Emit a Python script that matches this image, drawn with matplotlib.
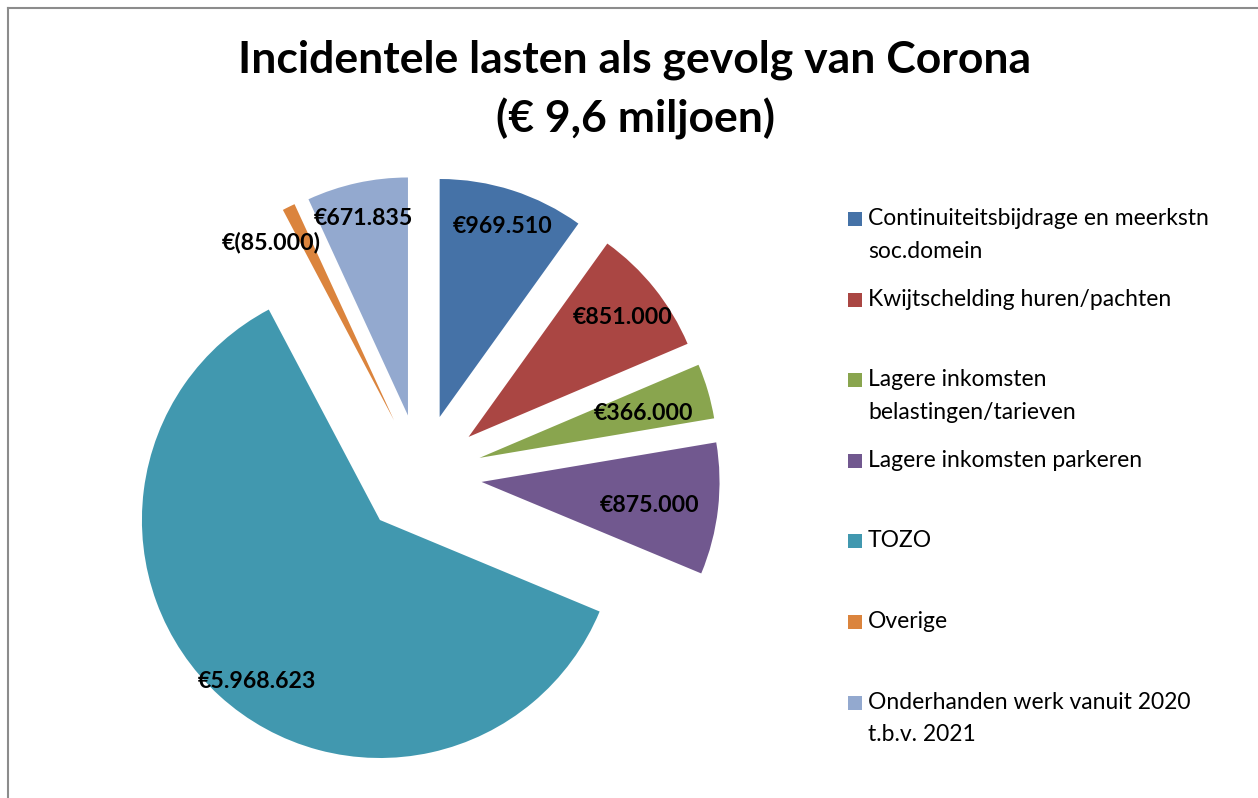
import matplotlib
matplotlib.use("Agg")
import matplotlib.pyplot as plt
import numpy as np
from matplotlib.patches import Rectangle
from matplotlib.lines import Line2D

# ---- data ----
categories = [
    "Continuiteitsbijdrage en meerkstn\nsoc.domein",
    "Kwijtschelding huren/pachten",
    "Lagere inkomsten\nbelastingen/tarieven",
    "Lagere inkomsten parkeren",
    "TOZO",
    "Overige",
    "Onderhanden werk vanuit 2020\nt.b.v. 2021",
]
amounts = [969510, 851000, 366000, 875000, 5968623, -85000, 671835]
title_lines = ["Incidentele lasten als gevolg van Corona", "(€ 9,6 miljoen)"]

# ---- style ----
colors = ["#4572A7", "#AA4643", "#89A54E", "#71588F", "#4198AF", "#DB843D", "#93A9CF"]
label_radius = [0.86, 0.83, 0.72, 0.71, 0.84, 0.92, 0.865]
label_angle_shift = [0, 0, 0, 0, 4.4, 7.7, 0]
FONT = "Lato"

W, H = 1258, 798
fig = plt.figure(figsize=(W / 100, H / 100), dpi=100)
fig.patch.set_facecolor("white")

def fx(px):
    return px / W

def fy(py):
    return 1 - py / H

# border (left and top visible)
fig.add_artist(Line2D([fx(8), fx(8)], [fy(8), fy(H + 5)], color="#8c8c8c", lw=1.5))
fig.add_artist(Line2D([fx(8), fx(W + 5)], [fy(8), fy(8)], color="#8c8c8c", lw=1.5))

# pie axes: center at (421, 475) px, radius 238 px
cx, cy, R, half = 421, 475, 238, 300
ax = fig.add_axes([fx(cx - half), fy(cy + half), 2 * half / W, 2 * half / H])
sizes = [abs(v) for v in amounts]
wedges, _ = ax.pie(sizes, colors=colors, startangle=90, counterclock=False,
                   explode=[0.256] * len(sizes), radius=1.0,
                   wedgeprops=dict(linewidth=0))
lim = half / R
ax.set_xlim(-lim, lim)
ax.set_ylim(-lim, lim)
ax.set_aspect("equal", adjustable="box")
ax.axis("off")

def fmt(v):
    s = f"{abs(v):,}".replace(",", ".")
    return f"€({s})" if v < 0 else f"€{s}"

for w, v, lr, da in zip(wedges, amounts, label_radius, label_angle_shift):
    ang = np.deg2rad((w.theta1 + w.theta2) / 2 + da)
    x0, y0 = w.center
    ax.annotate(fmt(v), (x0 + lr * np.cos(ang), y0 + lr * np.sin(ang)),
                xytext=(0, -3), textcoords="offset points",
                ha="center", va="center", fontsize=16.7, fontweight="bold",
                family=FONT, color="black")

# title
fig.text(fx(635), fy(72), title_lines[0], ha="center", va="baseline",
         fontsize=32, fontweight="bold", family=FONT)
fig.text(fx(636), fy(132), title_lines[1], ha="center", va="baseline",
         fontsize=32, fontweight="bold", family=FONT)

# legend
y0, step = 219, 80.6
for i, (lab, c) in enumerate(zip(categories, colors)):
    yy = y0 + i * step
    fig.add_artist(Rectangle((fx(848), fy(yy + 7)), 14 / W, 14 / H,
                             transform=fig.transFigure, facecolor=c, edgecolor="none"))
    fig.text(fx(868), fy(yy - 11), lab, ha="left", va="top", fontsize=16.5,
             family=FONT, linespacing=1.68)

fig.savefig("out.png", dpi=100, facecolor="white")
